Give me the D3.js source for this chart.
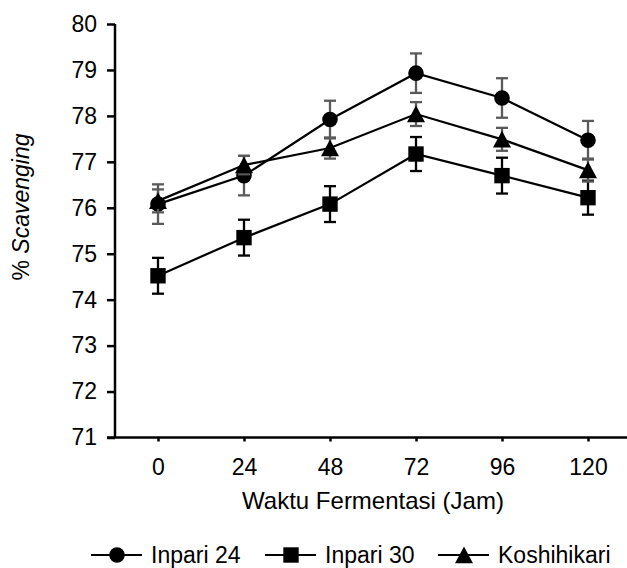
<!DOCTYPE html>
<html>
<head>
<meta charset="utf-8">
<script src="https://cdn.jsdelivr.net/npm/d3@7"></script>
<style>
  body { margin: 0; background: #fff; }
  text { font-family: "Liberation Sans", Arial, sans-serif; fill: #000; }
</style>
</head>
<body>
<script>
// categories (hours of fermentation)
var hours = ["0", "24", "48", "72", "96", "120"];
var yTicks = [71, 72, 73, 74, 75, 76, 77, 78, 79, 80];

// series values
var seriesNames = ["Inpari 24", "Inpari 30", "Koshihikari"];
var inpari24 = [76.08, 76.7, 77.92, 78.93, 78.39, 77.47];
var inpari24Err = [0.43, 0.43, 0.41, 0.43, 0.43, 0.42];
var inpari30 = [74.52, 75.35, 76.08, 77.17, 76.7, 76.22];
var inpari30Err = [0.39, 0.39, 0.39, 0.37, 0.39, 0.37];
var koshihikari = [76.15, 76.93, 77.3, 78.04, 77.49, 76.82];
var koshihikariErr = [0.25, 0.2, 0.23, 0.26, 0.25, 0.25];

var chart = {
    width: 627,
    height: 568
}

var svg = d3.select("body")
    .append('svg')
    .attr('width', chart.width)
    .attr('height', chart.height)

var x = d3.scalePoint()
    .domain(hours)
    .range([115, 631])
    .padding(0.5)

var y = d3.scaleLinear()
    .domain([71, 80])
    .range([437.5, 24])

// marker shapes
var circlePath = "M-7.8,0A7.8,7.8 0 1,1 7.8,0A7.8,7.8 0 1,1 -7.8,0Z";
var squarePath = "M-7.7,-7.7H7.7V7.7H-7.7Z";
var trianglePath = "M0,-8.6L9,8.2L-9,8.2Z";

var series = [
    { name: seriesNames[0], values: inpari24, err: inpari24Err, marker: circlePath, errColor: "#5a5a5a" },
    { name: seriesNames[1], values: inpari30, err: inpari30Err, marker: squarePath, errColor: "#000" },
    { name: seriesNames[2], values: koshihikari, err: koshihikariErr, marker: trianglePath, errColor: "#5a5a5a" }
]

// axes
var yAxis = svg.append('g')
    .attr('transform', 'translate(115,0)')
    .call(d3.axisLeft(y).tickValues(yTicks).tickSize(8).tickPadding(10).tickFormat(d3.format('d')))
yAxis.select('.domain').attr('stroke-width', 2.5).attr('d', 'M0,' + y(80) + 'V' + y(71))
yAxis.selectAll('.tick line').attr('stroke-width', 2.5)
yAxis.selectAll('.tick text').style('font-size', '23px').attr('font-family', null)

var xAxis = svg.append('g')
    .attr('transform', 'translate(0,' + y(71) + ')')
    .call(d3.axisBottom(x).tickSize(4).tickPadding(17))
xAxis.select('.domain').attr('stroke-width', 2.5).attr('d', 'M107,0H631')
xAxis.selectAll('.tick line').attr('stroke-width', 2.5)
xAxis.selectAll('.tick text').style('font-size', '23px').attr('font-family', null)

// axis titles
svg.append('text')
    .attr('x', 373)
    .attr('y', 509)
    .attr('text-anchor', 'middle')
    .style('font-size', '24px')
    .text('Waktu Fermentasi (Jam)')

var yTitle = svg.append('text')
    .attr('transform', 'translate(29,207) rotate(-90)')
    .attr('text-anchor', 'middle')
    .style('font-size', '23px')
yTitle.append('tspan').text('% ')
yTitle.append('tspan').style('font-style', 'italic').text('Scavenging')

var line = d3.line()
    .x((d, i) => x(hours[i]))
    .y(d => y(d))

// draw each series: error bars, line, markers
series.forEach(function(s) {
    var g = svg.append('g')

    var eb = g.selectAll('.err')
        .data(s.values)
        .enter()
        .append('g')
        .attr('stroke', s.errColor)
        .attr('stroke-width', 2.3)
    eb.append('line')
        .attr('x1', (d, i) => x(hours[i]))
        .attr('x2', (d, i) => x(hours[i]))
        .attr('y1', (d, i) => y(d + s.err[i]))
        .attr('y2', (d, i) => y(d - s.err[i]))
    eb.append('line')
        .attr('x1', (d, i) => x(hours[i]) - 6)
        .attr('x2', (d, i) => x(hours[i]) + 6)
        .attr('y1', (d, i) => y(d + s.err[i]))
        .attr('y2', (d, i) => y(d + s.err[i]))
    eb.append('line')
        .attr('x1', (d, i) => x(hours[i]) - 6)
        .attr('x2', (d, i) => x(hours[i]) + 6)
        .attr('y1', (d, i) => y(d - s.err[i]))
        .attr('y2', (d, i) => y(d - s.err[i]))

    g.append('path')
        .datum(s.values)
        .attr('d', line)
        .attr('fill', 'none')
        .attr('stroke', '#000')
        .attr('stroke-width', 2.2)

    g.selectAll('.mark')
        .data(s.values)
        .enter()
        .append('path')
        .attr('d', s.marker)
        .attr('transform', (d, i) => 'translate(' + x(hours[i]) + ',' + y(d) + ')')
        .attr('fill', '#000')
})

// legend
var legendX = [91, 265, 438];
var legend = svg.append('g')
    .selectAll('g')
    .data(series)
    .enter()
    .append('g')
    .attr('transform', (d, i) => 'translate(' + legendX[i] + ',555)')
legend.append('line')
    .attr('x1', 0)
    .attr('x2', 51)
    .attr('stroke', '#000')
    .attr('stroke-width', 2.2)
legend.append('path')
    .attr('d', d => d.marker)
    .attr('transform', 'translate(26,0)')
    .attr('fill', '#000')
legend.append('text')
    .attr('x', 60)
    .attr('y', 8)
    .style('font-size', '23px')
    .text(d => d.name)
</script>
</body>
</html>
